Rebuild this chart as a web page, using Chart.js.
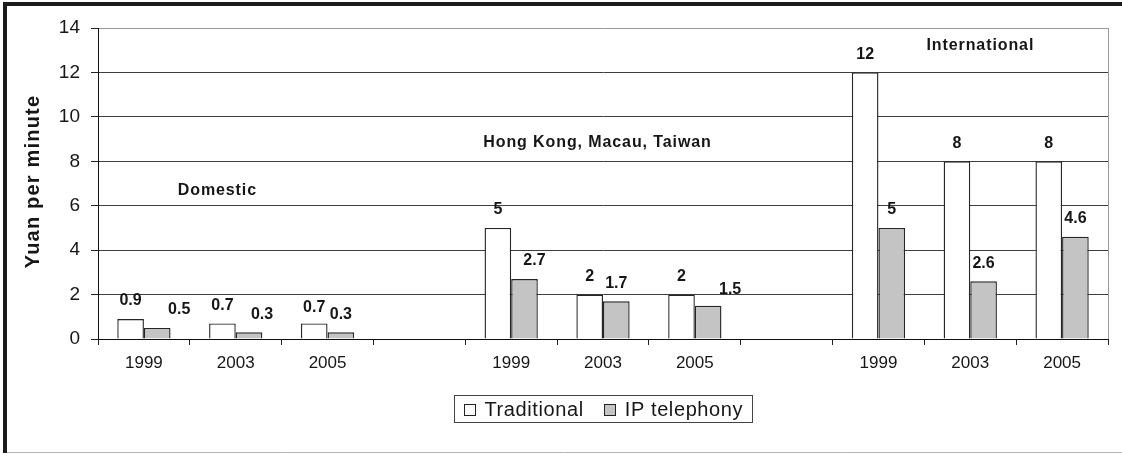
<!DOCTYPE html>
<html>
<head>
<meta charset="utf-8">
<script src="https://cdn.jsdelivr.net/npm/chart.js@4.4.1/dist/chart.umd.min.js"></script>
<style>
  html, body { margin: 0; padding: 0; background: #fff; }
  #wrap { width: 1122px; height: 454px; position: relative; }
</style>
</head>
<body>
<div id="wrap"><canvas id="c"></canvas></div>
<script>
// Call prices by destination, three survey years per group (blank slot between groups)
const categories = ['1999', '2003', '2005', '', '1999', '2003', '2005', '', '1999', '2003', '2005'];
const traditional = [0.9, 0.7, 0.7, null, 5, 2, 2, null, 12, 8, 8];
const ipTelephony = [0.5, 0.3, 0.3, null, 2.7, 1.7, 1.5, null, 5, 2.6, 4.6];
const seriesNames = ['Traditional', 'IP telephony'];
const groupNames = ['Domestic', 'Hong Kong, Macau, Taiwan', 'International'];
const yTicks = [0, 2, 4, 6, 8, 10, 12, 14];
const axisTitle = 'Yuan per minute';

const FONT = '"Liberation Sans", Arial, Helvetica, sans-serif';
const INK = '#161616';

// where each group caption sits, in axis units (category index, y value)
const groupPlacement = [
  { at: 0.80, y: 6.7 },
  { at: 4.94, y: 8.85 },
  { at: 9.11, y: 13.2 }
];
// small sideways/vertical shifts for some value labels ("dataset:index")
const labelNudge = { '1:0': [22, 0], '1:1': [13, 0], '1:4': [10, 0], '1:6': [22, 2], '0:2': [0, 2] };

function xAt(scale, v) {
  const i = Math.floor(v), f = v - i;
  const a = scale.getPixelForValue(i);
  const b = scale.getPixelForValue(Math.min(i + 1, categories.length - 1));
  return a + f * (b - a);
}

const decor = {
  id: 'decor',
  beforeDraw(chart) {
    const ctx = chart.ctx;
    ctx.save();
    ctx.fillStyle = '#fff';
    ctx.fillRect(0, 0, chart.width, chart.height);
    ctx.restore();
  },
  afterDatasetsDraw(chart) {
    const ctx = chart.ctx;
    ctx.save();
    ctx.font = 'bold 16px ' + FONT;
    ctx.fillStyle = INK;
    ctx.textAlign = 'center';
    ctx.textBaseline = 'middle';
    chart.data.datasets.forEach((ds, di) => {
      const meta = chart.getDatasetMeta(di);
      ds.data.forEach((v, i) => {
        if (v === null) return;
        const el = meta.data[i];
        const n = labelNudge[di + ':' + i] || [0, 0];
        ctx.fillText(String(v), el.x + n[0], el.y - 18 + n[1]);
      });
    });
    ctx.restore();
  },
  afterDraw(chart) {
    const ctx = chart.ctx;
    const area = chart.chartArea;
    const xs = chart.scales.x, ys = chart.scales.y;
    ctx.save();

    // plot frame: right edge
    ctx.strokeStyle = '#999';
    ctx.lineWidth = 1;
    ctx.beginPath();
    ctx.moveTo(Math.round(area.right) + 0.5, area.top);
    ctx.lineTo(Math.round(area.right) + 0.5, area.bottom);
    ctx.stroke();

    // outer frame
    ctx.strokeStyle = '#1c1c1c';
    ctx.lineWidth = 4;
    ctx.beginPath();
    ctx.moveTo(3, 4); ctx.lineTo(chart.width, 4);
    ctx.moveTo(5, 2); ctx.lineTo(5, chart.height - 1);
    ctx.stroke();
    ctx.strokeStyle = '#b4b4b4';
    ctx.lineWidth = 1;
    ctx.beginPath();
    ctx.moveTo(7, chart.height - 1.5); ctx.lineTo(chart.width, chart.height - 1.5);
    ctx.stroke();

    // y axis title
    ctx.save();
    ctx.translate(33, (area.top + area.bottom) / 2 - 2);
    ctx.rotate(-Math.PI / 2);
    ctx.font = 'bold 20px ' + FONT;
    ctx.letterSpacing = '1.2px';
    ctx.fillStyle = INK;
    ctx.textAlign = 'center';
    ctx.textBaseline = 'middle';
    ctx.fillText(axisTitle, 0, 0);
    ctx.restore();

    // group captions
    ctx.font = 'bold 16px ' + FONT;
    ctx.letterSpacing = '0.9px';
    ctx.fillStyle = INK;
    ctx.textAlign = 'center';
    ctx.textBaseline = 'middle';
    groupNames.forEach((g, k) => {
      const p = groupPlacement[k];
      ctx.fillText(g, xAt(xs, p.at), ys.getPixelForValue(p.y));
    });
    ctx.letterSpacing = '0px';

    // legend
    const colors = chart.data.datasets.map(d => d.backgroundColor);
    ctx.font = '20px ' + FONT;
    ctx.letterSpacing = '0.6px';
    const sq = 11, gapIn = 10, gapOut = 20, padX = 9;
    const widths = seriesNames.map(s => ctx.measureText(s).width);
    let total = padX * 2;
    widths.forEach((w, i) => { total += sq + gapIn + w + (i ? gapOut : 0); });
    const cx = (area.left + area.right) / 2;
    const bx = Math.round(cx - total / 2) + 0.5, by = 395.5, bh = 27;
    ctx.strokeStyle = '#444';
    ctx.lineWidth = 1;
    ctx.strokeRect(bx, by, Math.round(total), bh);
    let x = bx + padX;
    const my = by + bh / 2;
    seriesNames.forEach((s, i) => {
      if (i) x += gapOut;
      ctx.fillStyle = colors[i];
      ctx.fillRect(Math.round(x) + 0.5, Math.round(my - sq / 2) + 0.5, sq, sq);
      ctx.strokeStyle = '#222';
      ctx.strokeRect(Math.round(x) + 0.5, Math.round(my - sq / 2) + 0.5, sq, sq);
      x += sq + gapIn;
      ctx.fillStyle = INK;
      ctx.textAlign = 'left';
      ctx.textBaseline = 'middle';
      ctx.fillText(s, x, my + 1);
      x += widths[i];
    });
    ctx.restore();
  }
};

new Chart(document.getElementById('c'), {
  type: 'bar',
  data: {
    labels: categories,
    datasets: [
      {
        label: seriesNames[0],
        data: traditional,
        backgroundColor: '#ffffff',
        borderColor: '#262626',
        borderWidth: 1.4
      },
      {
        label: seriesNames[1],
        data: ipTelephony,
        backgroundColor: '#c4c4c4',
        borderColor: '#262626',
        borderWidth: 1.4
      }
    ]
  },
  options: {
    responsive: true,
    maintainAspectRatio: false,
    animation: false,
    events: [],
    layout: { padding: { top: 28, right: 14, bottom: 0, left: 0 } },
    datasets: { bar: { categoryPercentage: 0.58, barPercentage: 1.0 } },
    plugins: {
      legend: { display: false },
      tooltip: { enabled: false },
      title: { display: false }
    },
    scales: {
      x: {
        type: 'category',
        afterFit(s) { s.height = 115; },
        grid: {
          display: true,
          drawOnChartArea: false,
          drawTicks: true,
          tickLength: 6,
          tickColor: '#222',
          offset: true
        },
        border: { display: true, color: '#111', width: 1 },
        ticks: {
          autoSkip: false,
          maxRotation: 0,
          padding: 8,
          color: INK,
          font: { family: FONT, size: 17 }
        }
      },
      y: {
        min: 0,
        max: 14,
        afterFit(s) { s.width = 98; },
        afterBuildTicks(s) { s.ticks = yTicks.map(v => ({ value: v })); },
        grid: {
          color: c => (c.tick && c.tick.value === 14 ? '#999' : '#3e3e3e'),
          lineWidth: 1,
          tickLength: 7,
          tickColor: '#222'
        },
        border: { display: true, color: '#111', width: 1 },
        ticks: {
          padding: 11,
          color: INK,
          font: { family: FONT, size: 19 }
        }
      }
    }
  },
  plugins: [decor]
});
</script>
</body>
</html>
